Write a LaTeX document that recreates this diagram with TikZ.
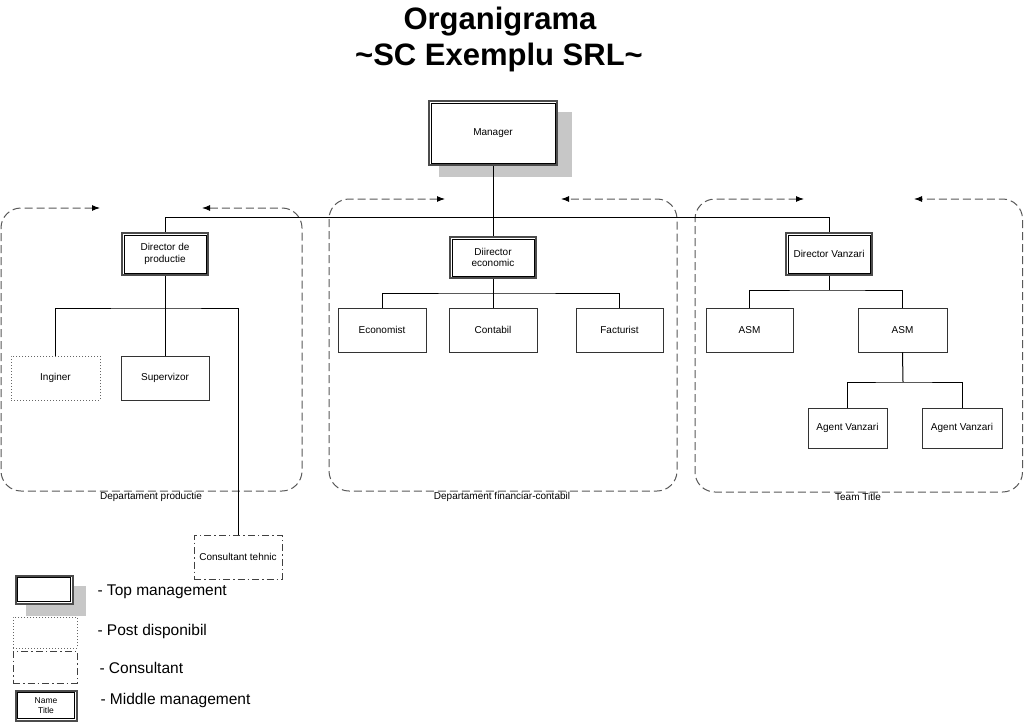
\documentclass[tikz,border=0pt]{standalone}
\usepackage{fontspec}
\setmainfont{Liberation Sans}
\usetikzlibrary{arrows.meta}
\begin{document}
\begin{tikzpicture}[x=1pt,y=-1pt,
  lbl/.style={font=\fontsize{10}{11.5}\selectfont},
  box/.style={draw=black!80, line width=0.9pt, fill=white, minimum width=88pt, minimum height=44pt, inner sep=0pt, align=center, lbl},
  dbox/.style={box, draw=black!70, line width=2pt},
  innerb/.style={draw=black, line width=0.8pt},
  dotbox/.style={box, draw=black!60, dash pattern=on 1pt off 2pt},
  dashdotbox/.style={box, draw=black!75, dash pattern=on 7pt off 3pt on 1.5pt off 3pt},
  conn/.style={draw=black, line width=1pt},
  frame/.style={draw=black!65, line width=1pt, dash pattern=on 8pt off 4pt, rounded corners=20pt, {Latex[length=8pt,width=6pt,color=black]}-{Latex[length=8pt,width=6pt,color=black]}},
  shadow/.style={fill=black!22, draw=none},
  legtext/.style={anchor=west, font=\fontsize{15.5}{17}\selectfont},
  frametitle/.style={lbl}
]
\useasboundingbox[fill=white] (0,0) rectangle (1024,722);

% Title
\node[font=\bfseries\fontsize{31}{34}\selectfont] (t1) at (500,22) {Organigrama};
\node[font=\bfseries\fontsize{31}{34}\selectfont] (t2) at (499,57) {\textasciitilde SC Exemplu SRL\textasciitilde};

% Frames
\draw[frame] (100,208) -- (1,208) -- (1,491) -- (302,491) -- (302,208) -- (202,208);
\draw[frame] (445,199) -- (329,199) -- (329,491) -- (677,491) -- (677,199) -- (561,199);
\draw[frame] (804,199) -- (695,199) -- (695,492) -- (1022.5,492) -- (1022.5,199) -- (914,199);
\node[frametitle] (f1) at (151,497) {Departament productie};
\node[frametitle] (f2) at (502,497) {Departament financiar-contabil};
\node[frametitle] (f3) at (858,497) {Team Title};

% Manager
\fill[shadow] (439,112) rectangle (572,177);
\node[dbox, minimum width=128pt, minimum height=64pt] (mgr) at (493,133) {Manager};
\draw[innerb] ([shift={(3,3)}]mgr.north west) rectangle ([shift={(-3,-3)}]mgr.south east);

% Directors
\node[dbox, minimum width=86pt, minimum height=42pt] (dp) at (165,254) {Director de\\productie};
\draw[innerb] ([shift={(3,3)}]dp.north west) rectangle ([shift={(-3,-3)}]dp.south east);
\node[dbox, minimum width=86pt, minimum height=41pt] (de) at (493,257.5) {Diirector\\economic};
\draw[innerb] ([shift={(3,3)}]de.north west) rectangle ([shift={(-3,-3)}]de.south east);
\node[dbox, minimum width=86pt, minimum height=42pt] (dv) at (829,254) {Director Vanzari};
\draw[innerb] ([shift={(3,3)}]dv.north west) rectangle ([shift={(-3,-3)}]dv.south east);

% Top bus
\coordinate (hb) at (493,217);
\draw[conn] (mgr.south) -- (hb);
\draw[conn] (dp.north) -- (dp.north |- hb) -| (dv.north);
\draw[conn] (hb) -- (de.north);

% Productie
\node[dotbox, minimum width=89pt] (ing) at (55.5,378) {Inginer};
\node[box] (sup) at (165,378) {Supervizor};
\node[dashdotbox] (cons) at (238,557) {Consultant tehnic};
\coordinate (b1) at (165,308);
\draw[conn] (dp.south) -- (b1);
\draw[conn] (ing.north) |- (b1) -| (cons.north);
\draw[conn] (b1) -- (sup.north);

% Economic
\node[box] (eco) at (382,330) {Economist};
\node[box] (cont) at (493,330) {Contabil};
\node[box, minimum width=87pt] (fact) at (619.5,330) {Facturist};
\coordinate (b2) at (493,293);
\draw[conn] (de.south) -- (cont.north);
\draw[conn] (eco.north) |- (b2) -| (fact.north);

% Vanzari
\node[box, minimum width=87pt] (asm1) at (749.5,330) {ASM};
\node[box, minimum width=89pt] (asm2) at (902.5,330) {ASM};
\coordinate (b3) at (829,290);
\draw[conn] (dv.south) -- (b3);
\draw[conn] (asm1.north) |- (b3) -| (asm2.north);
\node[box, minimum width=79pt, minimum height=40pt] (ag1) at (847.5,428) {Agent Vanzari};
\node[box, minimum width=80pt, minimum height=40pt] (ag2) at (962,428) {Agent Vanzari};
\coordinate (b4) at (903,382);
\draw[conn] (asm2.south) -- (b4);
\draw[conn] (ag1.north) |- (b4) -| (ag2.north);

% Legend
\fill[shadow] (26,586) rectangle (86,616);
\node[dbox, minimum width=57pt, minimum height=28pt] (lg1) at (44,589.5) {};
\draw[innerb] ([shift={(3,3)}]lg1.north west) rectangle ([shift={(-3,-3)}]lg1.south east);
\node[legtext] (lt1) at (94,592) {- Top management};
\node[dotbox, minimum width=64pt, minimum height=31pt] (lg2) at (45,632.5) {};
\node[legtext] (lt2) at (94,631) {- Post disponibil};
\node[dashdotbox, minimum width=64pt, minimum height=32pt] (lg3) at (45,667) {};
\node[legtext] (lt3) at (96,668) {- Consultant};
\node[dbox, minimum width=61pt, minimum height=30pt, font=\fontsize{8.5}{10}\selectfont] (lg4) at (46,705.5) {Name\\Title};
\draw[innerb] ([shift={(3,3)}]lg4.north west) rectangle ([shift={(-3,-3)}]lg4.south east);
\node[legtext] (lt4) at (97,700) {- Middle management};
\end{tikzpicture}
\end{document}
